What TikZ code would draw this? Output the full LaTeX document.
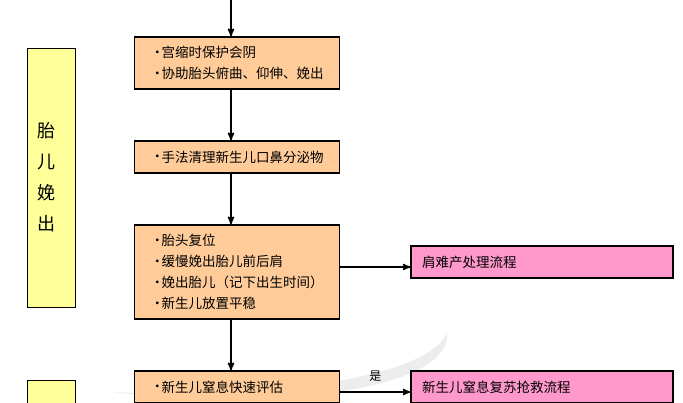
\documentclass[tikz,border=0pt]{standalone}
\usepackage{fontspec}
\setmainfont{Noto Sans CJK SC}
\usetikzlibrary{arrows, positioning}
\definecolor{procfill}{HTML}{FFCC99}
\definecolor{flowfill}{HTML}{FF99CC}
\definecolor{stagefill}{HTML}{FFFF99}
\definecolor{markgray}{HTML}{EDEDED}
\newcommand{\bul}{\makebox[11pt][l]{\raisebox{0.5pt}{•}}}
\tikzset{->,>=stealth',
    node distance=50.4pt,
    procbox/.style={rectangle,draw,line width=1.6pt,fill=procfill,text width=173pt,inner xsep=16pt,align=left,font=\fontsize{13.5}{21}\selectfont},
    flowbox/.style={rectangle,draw,line width=1.6pt,fill=flowfill,minimum height=32pt,text width=240pt,inner xsep=11pt,align=left,font=\fontsize{13.5}{21}\selectfont},
    stagebox/.style={rectangle,draw,line width=0.9pt,fill=stagefill,text width=28pt,inner xsep=10pt,align=left,font=\fontsize{18}{31}\selectfont},
    textnode/.style={font=\fontsize{12}{14}\selectfont}}
\begin{document}
\begin{tikzpicture}[x=1pt,y=1pt,line width=1.6pt]
\useasboundingbox (0,0) rectangle (683,-402);
% faint logo behind the last row
\fill[markgray,-] (447,-333) .. controls (452,-385) and (300,-412) .. (112,-392) .. controls (280,-398) and (425,-378) .. (447,-333) -- cycle;

\node[stagebox,minimum height=259pt] (fetal) at (51.5,-177.5) {胎\\儿\\娩\\出};
\node[stagebox,minimum height=100pt,anchor=north] (next) at (51.5,-380) {};

\node[procbox,minimum height=52pt] (protect) at (237,-63) {\bul 宫缩时保护会阴\\ \bul 协助胎头俯曲、仰伸、娩出};
\node[procbox,minimum height=32pt] (clear) [below=of protect] {\bul 手法清理新生儿口鼻分泌物};
\node[procbox,minimum height=94pt] (deliver) [below=of clear] {\bul 胎头复位\\ \bul 缓慢娩出胎儿前后肩\\ \bul 娩出胎儿（记下出生时间）\\ \bul 新生儿放置平稳};
\node[procbox,minimum height=32pt] (assess) [below=of deliver] {\bul 新生儿窒息快速评估};

\node[flowbox] (dystocia) [right=70pt of deliver,yshift=10pt] {肩难产处理流程};
\node[flowbox] (resus) [right=70pt of assess] {新生儿窒息复苏抢救流程};

\coordinate (entry) at (231,0);
\path
	(entry)	edge 	[] 	(entry |- protect.north)
	([xshift=-6pt]protect.south)	edge 	[] 	([xshift=-6pt]clear.north)
	([xshift=-6pt]clear.south)	edge 	[] 	([xshift=-6pt]deliver.north)
	([xshift=-6pt]deliver.south)	edge 	[] 	([xshift=-6pt]assess.north)
	([yshift=5pt]deliver.east)	edge 	[] 	([yshift=-5pt]dystocia.west)
	([yshift=-5pt]assess.east)	edge 	[] 	node [textnode,above=6pt] {是} ([yshift=-5pt]resus.west);
\end{tikzpicture}
\end{document}
